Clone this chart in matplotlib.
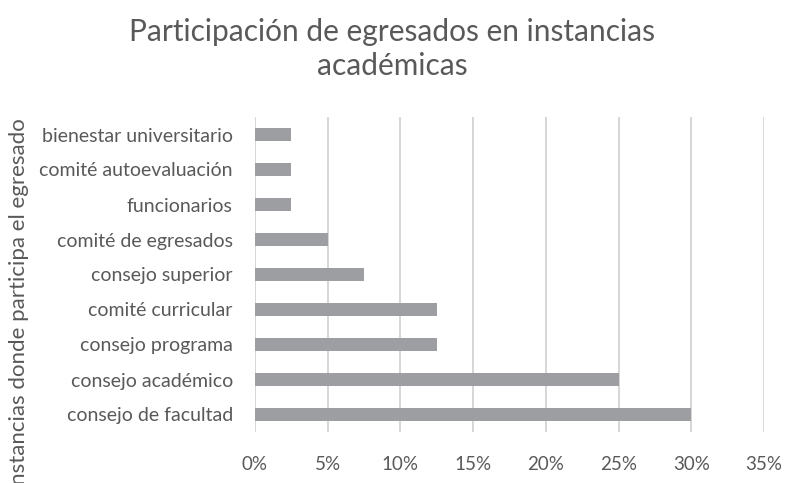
import matplotlib.pyplot as plt
from matplotlib.ticker import FuncFormatter

# data (bottom to top)
instancias = ['consejo de facultad', 'consejo académico', 'consejo programa',
              'comité curricular', 'consejo superior', 'comité de egresados',
              'funcionarios', 'comité autoevaluación', 'bienestar universitario']
porcentajes = [30, 25, 12.5, 12.5, 7.5, 5, 2.5, 2.5, 2.5]
x_ticks = [0, 5, 10, 15, 20, 25, 30, 35]

TEXT = '#595959'
plt.rcParams['font.family'] = ['Lato', 'DejaVu Sans']

fig = plt.figure(figsize=(7.85, 4.83), dpi=100)
ax = fig.add_axes([255 / 785, 1 - 432 / 483, 509 / 785, 315 / 483])

ax.barh(range(len(instancias)), porcentajes, height=0.37, color='#9d9ea2', zorder=3)

ax.set_xlim(0, 35)
ax.set_ylim(-0.5, len(instancias) - 0.5)
ax.set_xticks(x_ticks)
ax.xaxis.set_major_formatter(FuncFormatter(lambda v, p: f'{v:.0f}%'))
ax.set_yticks(range(len(instancias)))
ax.set_yticklabels(instancias)
ax.tick_params(axis='both', length=0, colors=TEXT)
ax.tick_params(axis='y', pad=16, labelsize=14)
ax.tick_params(axis='x', pad=17, labelsize=13.5)
ax.grid(axis='x', color='#d0d0d0', linewidth=1.2, zorder=0)
for s in ax.spines.values():
    s.set_visible(False)

fig.text(392 / 785, 1 - 49 / 483, 'Participación de egresados en instancias\nacadémicas',
         ha='center', va='center', fontsize=21.5, color=TEXT, linespacing=1.25)
fig.text(19 / 785, 1 - 305 / 483, 'Instancias donde participa el egresado',
         rotation=90, ha='center', va='center', fontsize=16, color=TEXT)

fig.savefig('out.png', dpi=100)
